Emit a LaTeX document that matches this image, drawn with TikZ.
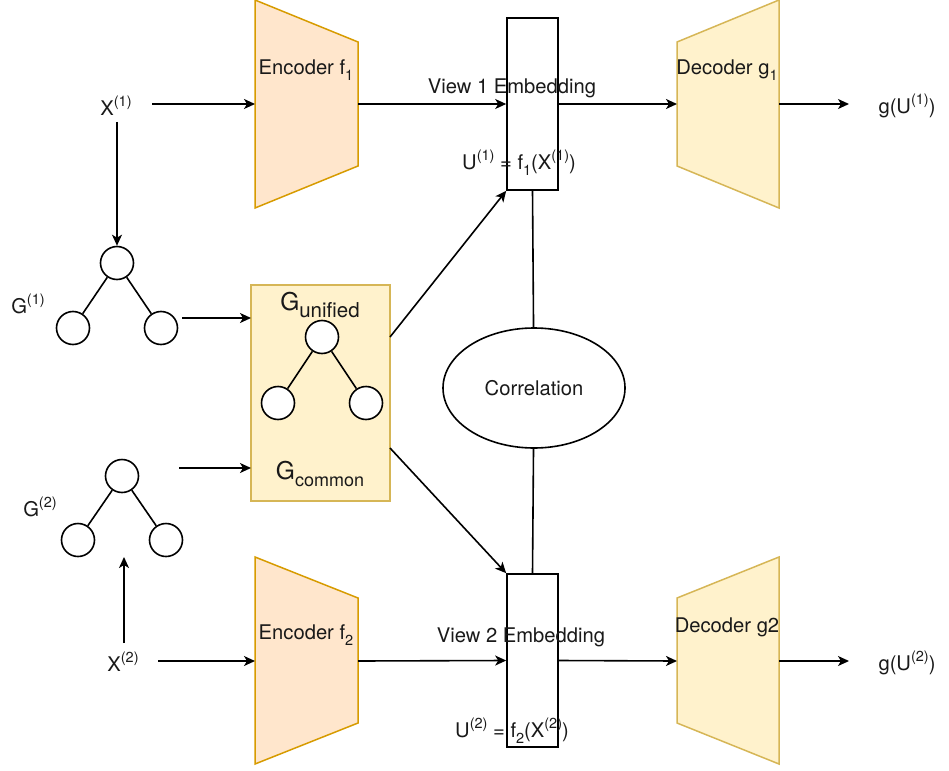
\documentclass[tikz,border=0pt]{standalone}
\usepackage{fontspec}
\setmainfont{TeX Gyre Heros}
\usetikzlibrary{arrows.meta,shapes.geometric}
\newcommand{\sps}[1]{\raisebox{0.45em}{\fontsize{14.5}{14.5}\selectfont #1}}
\newcommand{\sbs}[1]{\raisebox{-0.3em}{\fontsize{14.5}{14.5}\selectfont #1}}
\definecolor{encfill}{HTML}{FFE6CC}
\definecolor{encdraw}{HTML}{D79B00}
\definecolor{decfill}{HTML}{FFF2CC}
\definecolor{decdraw}{HTML}{D6B656}
\begin{document}
\begin{tikzpicture}[x=1pt,y=-1pt,
  txt/.style={font=\fontsize{20.2}{23}\selectfont, inner sep=0pt, text=black!90},
  arr/.style={-{Stealth[length=11pt,width=10pt,inset=3pt]}, line width=1.6pt},
  ln/.style={line width=1.6pt},
  vnode/.style={circle, draw, line width=1.6pt, minimum size=33pt, inner sep=0pt, fill=white},
  embbox/.style={rectangle, draw, line width=1.6pt, minimum width=51pt, inner sep=0pt},
  encshape/.style={fill=encfill, draw=encdraw, line width=1.5pt},
  decshape/.style={fill=decfill, draw=decdraw, line width=1.5pt}]
\useasboundingbox (0,0) rectangle (949,770);

% encoders and decoders
\path[encshape] (255,0) -- (358,42) -- (358,166) -- (255,208) -- cycle;
\path[encshape] (255,557) -- (358,598) -- (358,723) -- (255,764) -- cycle;
\path[decshape] (677,42) -- (779,0) -- (779,208) -- (677,166) -- cycle;
\path[decshape] (677,598) -- (779,557) -- (779,764) -- (677,723) -- cycle;
\node[txt] (enc1) at (306,70) {Encoder f\sbs{1}};
\node[txt] (enc2) at (306,635) {Encoder f\sbs{2}};
\node[txt] (dec1) at (727,70) {Decoder g\sbs{1}};
\node[txt] (dec2) at (727,627) {Decoder g2};
\coordinate (enc1w) at (255,104);
\coordinate (enc1e) at (358,104);
\coordinate (enc2w) at (255,661);
\coordinate (enc2e) at (358,661);
\coordinate (dec1w) at (677,104);
\coordinate (dec1e) at (779,104);
\coordinate (dec2w) at (677,661);
\coordinate (dec2e) at (779,661);

% embedding boxes
\node[embbox, minimum height=172pt] (emb1) at (532.5,104) {};
\node[embbox, minimum height=173pt] (emb2) at (532.5,660.5) {};
\node[txt] (v1) at (512,88) {View 1 Embedding};
\node[txt] (v2) at (521,637) {View 2 Embedding};
\node[txt] (u1) at (519,163) {U\sps{(1)} = f\sbs{1}(X\sps{(1)})};
\node[txt] (u2) at (512,731) {U\sps{(2)} = f\sbs{2}(X\sps{(2)})};

% correlation
\node[ellipse, draw, line width=1.6pt, minimum width=182pt, minimum height=120pt, inner sep=0pt] (corr) at (534,388) {};
\node[txt] at (corr.center) {Correlation};

% inputs and outputs
\node[txt] (x1) at (116,106) {X\sps{(1)}};
\node[txt] (x2) at (123,662) {X\sps{(2)}};
\node[txt] (g1) at (907,106) {g(U\sps{(1)})};
\node[txt] (g2) at (907,663) {g(U\sps{(2)})};
\coordinate (x1out) at (152,104);
\coordinate (x1down) at (117,122);
\coordinate (x2out) at (158,661);
\coordinate (x2up) at (124,643);
\coordinate (o1) at (849,104);
\coordinate (o2) at (849,661);

% graph 1
\node[vnode] (a1) at (117,263) {};
\node[vnode] (b1) at (73,328) {};
\node[vnode] (c1) at (161,328) {};
\draw[ln] (a1) -- (b1) (a1) -- (c1);
\node[txt] (lg1) at (28,304) {G\sps{(1)}};
% graph 2
\node[vnode] (a2) at (122,476) {};
\node[vnode] (b2) at (78,540) {};
\node[vnode] (c2) at (166,540) {};
\draw[ln] (a2) -- (b2) (a2) -- (c2);
\node[txt] (lg2) at (40,507) {G\sps{(2)}};
\coordinate (g2mid) at (124,557);

% unified graph box
\node[rectangle, fill=decfill, draw=decdraw, line width=1.5pt, minimum width=139pt, minimum height=216pt, inner sep=0pt] (gbox) at (320.5,393) {};
\node[font=\fontsize{24.5}{26}\selectfont, inner sep=0pt, text=black!90] (gu) at (320,305) {G\raisebox{-0.3em}{\fontsize{20.5}{20}\selectfont unified}};
\node[font=\fontsize{24.5}{26}\selectfont, inner sep=0pt, text=black!90] (gc) at (320,474) {G\raisebox{-0.3em}{\fontsize{18}{18}\selectfont common}};
\node[vnode] (a3) at (322,337) {};
\node[vnode] (b3) at (278,403) {};
\node[vnode] (c3) at (366,403) {};
\draw[ln] (a3) -- (b3) (a3) -- (c3);
\coordinate (gin1) at (182,318);
\coordinate (gin1e) at (251,318);
\coordinate (gin2) at (179,468);
\coordinate (gin2e) at (251,468);
\coordinate (gout1) at (390,337);
\coordinate (gout2) at (390,448);

% connectors
\draw[arr] (x1out) -- (enc1w);
\draw[arr] (enc1e) -- (emb1.west);
\draw[arr] (emb1.east) -- (dec1w);
\draw[arr] (dec1e) -- (o1);
\draw[arr] (x2out) -- (enc2w);
\draw[arr] (enc2e) -- (emb2.west);
\draw[arr] (emb2.east) -- (dec2w);
\draw[arr] (dec2e) -- (o2);
\draw[arr] (x1down) -- (a1);
\draw[arr] (x2up) -- (g2mid);
\draw[arr] (gin1) -- (gin1e);
\draw[arr] (gin2) -- (gin2e);
\draw[arr] (gout1) -- (emb1.south west);
\draw[arr] (gout2) -- (emb2.north west);
\draw[ln] (emb1.south) -- (corr);
\draw[ln] (corr) -- (emb2.north);
\end{tikzpicture}
\end{document}
